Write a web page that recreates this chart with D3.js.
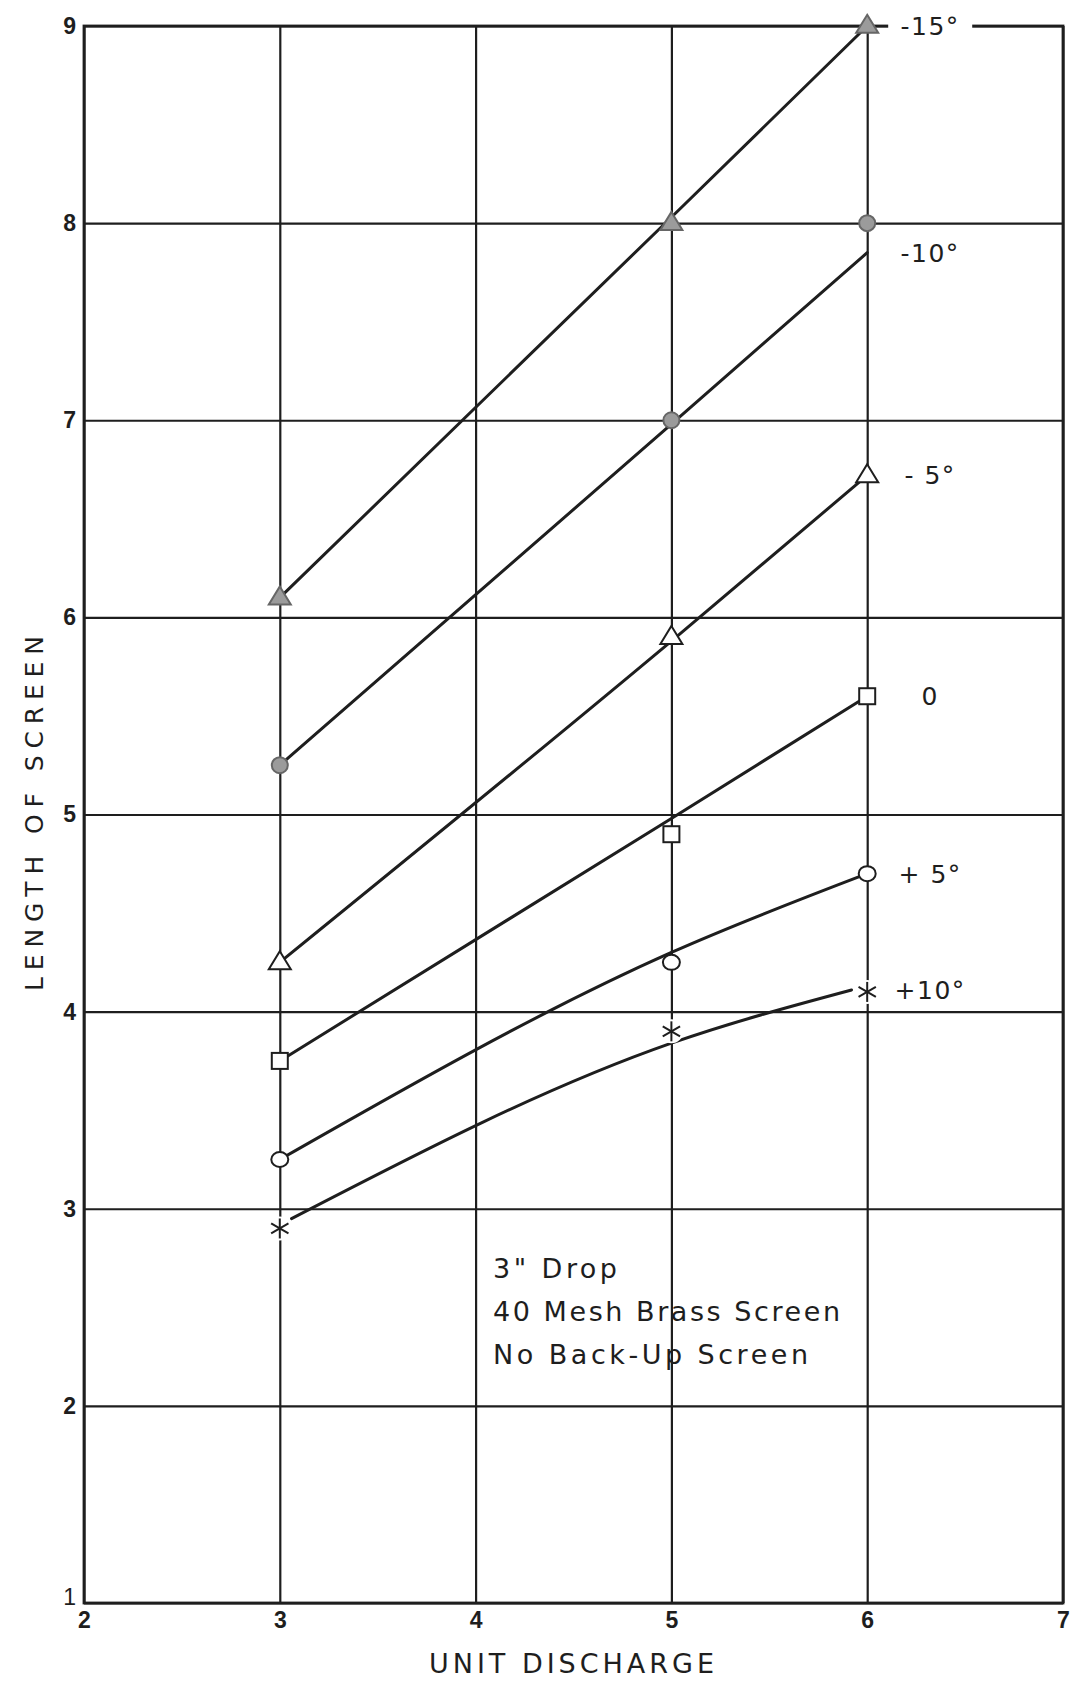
<!DOCTYPE html>
<html>
<head>
<meta charset="utf-8">
<script src="https://cdn.jsdelivr.net/npm/d3@7"></script>
<style>
  html, body { margin: 0; padding: 0; background: #fff; }
  svg { display: block; }
</style>
</head>
<body>
<svg id="chart" width="1073" height="1683"></svg>
<script>
// ---- data ----
const xTicks = [2, 3, 4, 5, 6, 7];
const yTicks = [1, 2, 3, 4, 5, 6, 7, 8, 9];
const discharge = [3, 5, 6];

const seriesNames = ["-15°", "-10°", "- 5°", "0", "+ 5°", "+10°"];
const seriesMarkers = ["triangleFilled", "circleFilled", "triangle", "square", "circle", "asterisk"];

// observed points (length of screen at unit discharge 3, 5, 6)
const obsM15 = [6.1, 8.0, 9.0];
const obsM10 = [5.25, 7.0, 8.0];
const obsM5 = [4.25, 5.9, 6.72];
const obs0 = [3.75, 4.9, 5.6];
const obsP5 = [3.25, 4.25, 4.7];
const obsP10 = [2.9, 3.9, 4.1];

// drawn (faired) curves
const fitXM15 = [3, 5, 6];    const fitM15 = [6.1, 8.03, 9.0];
const fitXM10 = [3, 5, 6];    const fitM10 = [5.25, 6.98, 7.85];
const fitXM5 = [3, 5, 6];     const fitM5 = [4.25, 5.88, 6.72];
const fitX0 = [3, 5, 6];      const fit0 = [3.75, 4.98, 5.6];
const fitXP5 = [3, 5, 6];     const fitP5 = [3.25, 4.30, 4.7];
const fitXP10 = [3.06, 5, 5.92]; const fitP10 = [2.95, 3.84, 4.11];

const observed = [obsM15, obsM10, obsM5, obs0, obsP5, obsP10];
const fitXs = [fitXM15, fitXM10, fitXM5, fitX0, fitXP5, fitXP10];
const fitYs = [fitM15, fitM10, fitM5, fit0, fitP5, fitP10];

const xTitle = "UNIT DISCHARGE";
const yTitle = "LENGTH OF SCREEN";
const noteLines = ["3\" Drop", "40 Mesh Brass Screen", "No Back-Up Screen"];

// ---- layout ----
const svg = d3.select("#chart");
const L = 84, R = 1063, T = 26, B = 1603;
const x = d3.scaleLinear().domain([2, 7]).range([L, R]);
const y = d3.scaleLinear().domain([1, 9]).range([B, T]);
const ink = "#1e1e1e";
const tickFont = "Liberation Sans, Arial, sans-serif";
const labelFont = "DejaVu Sans, Verdana, sans-serif";

// gridlines + tick labels via axes
const gx = svg.append("g").attr("transform", `translate(0,${B})`)
  .call(d3.axisBottom(x).tickValues(xTicks).tickFormat(d3.format("d"))
        .tickSize(-(B - T)).tickPadding(9));
gx.select(".domain").remove();
gx.selectAll(".tick line").attr("stroke", ink).attr("stroke-width", 2.2);
gx.selectAll(".tick text").style("font-family", tickFont)
  .style("font-size", "23px").style("font-weight", "bold").attr("fill", ink);

const gy = svg.append("g").attr("transform", `translate(${L},0)`)
  .call(d3.axisLeft(y).tickValues(yTicks).tickFormat(d3.format("d"))
        .tickSize(-(R - L)).tickPadding(8));
gy.select(".domain").remove();
gy.selectAll(".tick line").attr("stroke", ink).attr("stroke-width", 2.2);
gy.selectAll(".tick text").style("font-family", tickFont)
  .style("font-size", "23px").style("font-weight", "bold").attr("fill", ink);
gy.selectAll(".tick").filter(d => d === 1).select("text")
  .attr("dy", "0.05em").style("font-weight", "normal");

// border
svg.append("rect").attr("x", L).attr("y", T).attr("width", R - L).attr("height", B - T)
  .attr("fill", "none").attr("stroke", ink).attr("stroke-width", 2.8);

// series curves
const line = d3.line().x(d => x(d[0])).y(d => y(d[1])).curve(d3.curveMonotoneX);
seriesNames.forEach((name, i) => {
  const pts = fitXs[i].map((xv, j) => [xv, fitYs[i][j]]);
  svg.append("path").attr("d", line(pts)).attr("fill", "none")
    .attr("stroke", ink).attr("stroke-width", 3).attr("stroke-linecap", "round");
});

// markers
function drawMarker(g, type, cx, cy) {
  const gray = "#9b9b9b";
  if (type === "triangleFilled" || type === "triangle") {
    const w = 22, h = 18;
    g.append("path")
      .attr("d", `M${cx},${cy - h * 0.62}L${cx + w / 2},${cy + h * 0.38}L${cx - w / 2},${cy + h * 0.38}Z`)
      .attr("fill", type === "triangleFilled" ? gray : "#fff")
      .attr("stroke", type === "triangleFilled" ? "#666" : ink).attr("stroke-width", 2);
  } else if (type === "circleFilled") {
    g.append("circle").attr("cx", cx).attr("cy", cy).attr("r", 8)
      .attr("fill", gray).attr("stroke", "#666").attr("stroke-width", 2);
  } else if (type === "circle") {
    g.append("ellipse").attr("cx", cx).attr("cy", cy).attr("rx", 8.5).attr("ry", 7.5)
      .attr("fill", "#fff").attr("stroke", ink).attr("stroke-width", 2);
  } else if (type === "square") {
    g.append("rect").attr("x", cx - 8).attr("y", cy - 8).attr("width", 16).attr("height", 16)
      .attr("fill", "#fff").attr("stroke", ink).attr("stroke-width", 2);
  } else if (type === "asterisk") {
    g.append("circle").attr("cx", cx).attr("cy", cy).attr("r", 12).attr("fill", "#fff");
    const r = 10;
    [90, 30, 150].forEach(a => {
      const rad = a * Math.PI / 180;
      g.append("line")
        .attr("x1", cx - r * Math.cos(rad)).attr("y1", cy - r * Math.sin(rad))
        .attr("x2", cx + r * Math.cos(rad)).attr("y2", cy + r * Math.sin(rad))
        .attr("stroke", ink).attr("stroke-width", 2);
    });
  }
}
const mg = svg.append("g");
seriesNames.forEach((name, i) => {
  observed[i].forEach((v, j) => drawMarker(mg, seriesMarkers[i], x(discharge[j]), y(v)));
});

// series labels
seriesNames.forEach((name, i) => {
  const ys = fitYs[i];
  const lx = x(6) + 63, ly = y(ys[ys.length - 1]);
  if (i === 0) {
    svg.append("rect").attr("x", lx - 42).attr("y", ly - 15).attr("width", 84).attr("height", 30).attr("fill", "#fff");
  }
  svg.append("text").attr("x", lx).attr("y", ly).attr("dy", "0.36em")
    .attr("text-anchor", "middle").attr("font-family", labelFont).attr("font-size", 25)
    .attr("letter-spacing", 1.5).attr("fill", ink).text(name);
});

// note
const noteX = 493, noteY0 = 1278, noteDy = 43;
const noteWidths = [124, 347, 315];
noteLines.forEach((t, i) => {
  svg.append("text").attr("x", noteX).attr("y", noteY0 + i * noteDy)
    .attr("font-family", labelFont).attr("font-size", 27).attr("fill", ink)
    .attr("textLength", noteWidths[i]).attr("lengthAdjust", "spacing").text(t);
});

// axis titles
svg.append("text").attr("x", 429).attr("y", 1673)
  .attr("font-family", labelFont).attr("font-size", 27).attr("fill", ink)
  .attr("textLength", 285).attr("lengthAdjust", "spacing").text(xTitle);
svg.append("text").attr("transform", "translate(43,991) rotate(-90)")
  .attr("font-family", labelFont).attr("font-size", 25).attr("fill", ink)
  .attr("textLength", 355).attr("lengthAdjust", "spacing").text(yTitle);
</script>
</body>
</html>
